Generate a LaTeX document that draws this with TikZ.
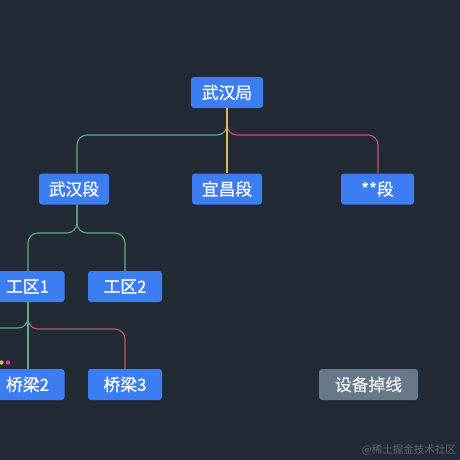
\documentclass[tikz,border=0pt]{standalone}
\usepackage{fontspec}
\newfontfamily\cjk{Noto Sans CJK SC}
\newfontfamily\cjkb[FakeBold=0.8]{Noto Sans CJK SC}
\definecolor{bg}{HTML}{222A36}
\definecolor{boxblue}{HTML}{3D7DF2}
\definecolor{boxgray}{HTML}{687888}
\definecolor{lgreen}{HTML}{5DAA88}
\definecolor{lred}{HTML}{C9506E}
\definecolor{lyellow}{HTML}{D8BE55}
\definecolor{dotpink}{HTML}{E0408A}
\definecolor{wm}{HTML}{626873}
\tikzset{
  topic/.style={fill=boxblue, text=white, rounded corners=3pt, minimum height=31pt,
    inner xsep=0pt, inner ysep=0pt, font=\cjkb\fontsize{16.8}{19}\selectfont},
  graytopic/.style={topic, fill=boxgray, text=white!88!boxgray},
  link/.style={line width=1.1pt, rounded corners=10pt},
}
\begin{document}
\begin{tikzpicture}[x=1pt, y=-1pt]
\fill[bg] (0,0) rectangle (460,460);
\useasboundingbox (0,0) rectangle (460,460);
\clip (0,0) rectangle (460,460);
% nodes
\node[topic, minimum width=72pt] (root) at (227,92.5) {武汉局};
\node[topic, minimum width=70pt] (whd) at (74,189) {武汉段};
\node[topic, minimum width=70pt] (ycd) at (227,189) {宜昌段};
\node[topic, minimum width=73pt] (xxd) at (377.5,189) {**段};
\node[topic, minimum width=74pt] (gq1) at (27.5,286.5) {工区1};
\node[topic, minimum width=74pt] (gq2) at (125,286.5) {工区2};
\node[topic, minimum width=74pt] (ql2) at (27.5,384.5) {桥梁2};
\node[topic, minimum width=74pt] (ql3) at (125,384.5) {桥梁3};
\node[graytopic, minimum width=99pt] (sbdx) at (368.5,384.5) {设备掉线};
\node[font=\cjk\fontsize{10.5}{12}\selectfont, text=wm, anchor=east, inner sep=0pt] (wmk) at (456,450) {@稀土掘金技术社区};
% free end
\coordinate (offleft) at (-20,328);
% connectors
\draw[link, lgreen] (root.south -| 227,0) -- (227,135) -- (77,135) -- (whd.north -| 77,0);
\draw[link, lred] (root.south -| 227,0) -- (227,135) -- (378,135) -- (xxd.north -| 378,0);
\draw[link, lyellow] (root.south) -- (ycd.north);
\draw[link, lgreen] (whd.south -| 77,0) -- (77,233) -- (28,233) -- (gq1.north -| 28,0);
\draw[link, lgreen] (whd.south -| 77,0) -- (77,233) -- (125,233) -- (gq2.north);
\draw[link, lgreen] (gq1.south -| 28,0) -- (28,328) -- (offleft);
\draw[link, lred] (gq1.south -| 28,0) -- (28,329) -- (125,329) -- (ql3.north);
\draw[link, lgreen] (gq1.south -| 28,0) -- (ql2.north -| 28,0);
% collapsed dots
\fill[lyellow] (1.5,362.5) circle (2.2pt);
\fill[dotpink] (8,362.5) circle (2.2pt);
\end{tikzpicture}
\end{document}
